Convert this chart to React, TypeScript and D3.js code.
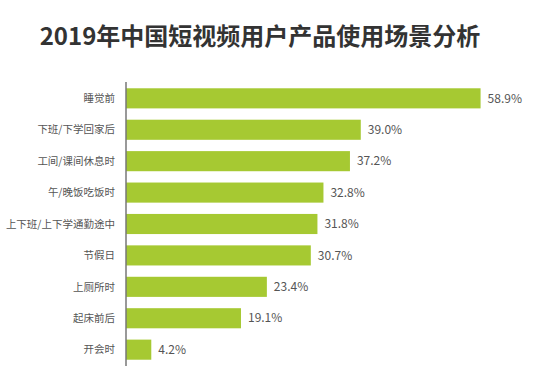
import React from "react";
import * as d3 from "d3";

const width = 556;
const height = 385;
const margin = { top: 82, right: 20, bottom: 20, left: 126 };

const title = "2019年中国短视频用户产品使用场景分析";
const scenes = [
  "睡觉前",
  "下班/下学回家后",
  "工间/课间休息时",
  "午/晚饭吃饭时",
  "上下班/上下学通勤途中",
  "节假日",
  "上厕所时",
  "起床前后",
  "开会时",
];
const shares = [58.9, 39.0, 37.2, 32.8, 31.8, 30.7, 23.4, 19.1, 4.2];

const font = "'Noto Sans CJK SC', 'Noto Sans', sans-serif";

export default function App() {
  const x = d3.scaleLinear().domain([0, 10]).range([margin.left, margin.left + 60.2]);
  const y = d3
    .scaleBand()
    .domain(scenes)
    .range([margin.top, 366])
    .paddingInner(0.36)
    .paddingOuter(0.2);

  return (
    <svg
      width={width}
      height={height}
      style={{ position: "absolute", left: 0, top: 0, background: "#fff" }}
    >
      <text
        x={260}
        y={45}
        textAnchor="middle"
        fontFamily={font}
        fontWeight="bold"
        fontSize={24}
        fill="#333"
      >
        {title}
      </text>
      {scenes.map((s, i) => (
        <g key={s}>
          <rect
            x={x(0)}
            y={y(s)}
            width={x(shares[i]) - x(0)}
            height={y.bandwidth()}
            fill="#a6c932"
          />
          <text
            x={115}
            y={(y(s) as number) + y.bandwidth() / 2}
            dy="0.35em"
            textAnchor="end"
            fontFamily={font}
            fontSize={10.5}
            fill="#555"
          >
            {s}
          </text>
          <text
            x={x(shares[i]) + 7}
            y={(y(s) as number) + y.bandwidth() / 2}
            dy="0.35em"
            fontFamily={font}
            fontSize={12}
            fill="#555"
          >
            {shares[i].toFixed(1) + "%"}
          </text>
        </g>
      ))}
      <line
        x1={margin.left}
        x2={margin.left}
        y1={margin.top}
        y2={366}
        stroke="#777"
        strokeWidth={1.5}
      />
    </svg>
  );
}
